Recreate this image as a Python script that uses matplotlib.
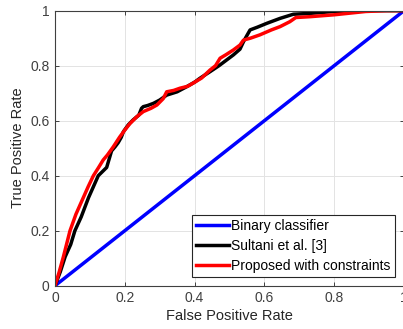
import matplotlib
matplotlib.use("Agg")
import matplotlib.pyplot as plt

plt.rcParams['font.family'] = ['Liberation Sans', 'DejaVu Sans']

# ---------------- Data ----------------
diag_fpr = [0, 1]
diag_tpr = [0, 1]

sultani_fpr = [0, 0.015, 0.029, 0.045, 0.057, 0.075, 0.096, 0.11, 0.124, 0.14, 0.148, 0.155,
               0.162, 0.172, 0.181, 0.19, 0.196, 0.21, 0.224, 0.24, 0.248, 0.253, 0.265, 0.282,
               0.30, 0.32, 0.35, 0.378, 0.40, 0.415, 0.444, 0.47, 0.511, 0.53, 0.54, 0.55,
               0.559, 0.58, 0.607, 0.645, 0.683, 0.73, 0.80, 0.88, 1.0]
sultani_tpr = [0, 0.05, 0.105, 0.15, 0.20, 0.25, 0.32, 0.36, 0.40, 0.42, 0.43, 0.46,
               0.49, 0.505, 0.52, 0.54, 0.56, 0.585, 0.603, 0.62, 0.645, 0.651, 0.655, 0.663,
               0.675, 0.693, 0.705, 0.724, 0.74, 0.754, 0.778, 0.80, 0.839, 0.86, 0.887, 0.91,
               0.93, 0.94, 0.954, 0.972, 0.987, 0.99, 0.997, 1.0, 1.0]

proposed_fpr = [0, 0.012, 0.024, 0.043, 0.06, 0.081, 0.095, 0.11, 0.125, 0.138, 0.15, 0.167,
                0.185, 0.2, 0.215, 0.235, 0.253, 0.275, 0.292, 0.31, 0.32, 0.34, 0.358, 0.38,
                0.395, 0.42, 0.444, 0.46, 0.473, 0.49, 0.511, 0.53, 0.54, 0.56, 0.587, 0.62,
                0.645, 0.673, 0.69, 0.73, 0.80, 0.89, 0.95, 1.0]
proposed_tpr = [0, 0.05, 0.105, 0.20, 0.26, 0.32, 0.36, 0.40, 0.43, 0.457, 0.475, 0.505,
                0.54, 0.566, 0.59, 0.615, 0.633, 0.645, 0.657, 0.68, 0.705, 0.71, 0.718, 0.725,
                0.736, 0.755, 0.784, 0.80, 0.827, 0.84, 0.857, 0.875, 0.893, 0.90, 0.912, 0.93,
                0.942, 0.96, 0.975, 0.978, 0.985, 0.997, 1.0, 1.0]

ticks = [0, 0.2, 0.4, 0.6, 0.8, 1]
tick_labels = ['0', '0.2', '0.4', '0.6', '0.8', '1']

# ---------------- Plot ----------------
fig = plt.figure(figsize=(4.03, 3.29), dpi=100)
ax = fig.add_axes([0.1365, 0.1316, 0.866, 0.836])

ax.plot(diag_fpr, diag_tpr, color='#0000ff', lw=2.5, label='Binary classifier')
ax.plot(sultani_fpr, sultani_tpr, color='black', lw=2.5, label='Sultani et al. [3]')
ax.plot(proposed_fpr, proposed_tpr, color='#ff0000', lw=2.5, label='Proposed with constraints')

ax.set_xlim(0, 1)
ax.set_ylim(0, 1)
ax.set_xticks(ticks)
ax.set_xticklabels(tick_labels)
ax.set_yticks(ticks)
ax.set_yticklabels(tick_labels)
ax.grid(True, color='#e3e3e3', lw=0.7)
ax.set_axisbelow(True)

ax.tick_params(direction='in', length=3, width=0.7, colors='#404040', labelsize=10,
               top=True, right=True, pad=4)
for s in ax.spines.values():
    s.set_color('#404040')
    s.set_linewidth(0.8)

ax.set_xlabel('False Positive Rate', fontsize=10.5, color='#262626', labelpad=3)
ax.set_ylabel('True Positive Rate', fontsize=10.5, color='#262626', labelpad=4)

leg = ax.legend(loc='lower right', bbox_to_anchor=(0.974, 0.032), fontsize=10,
                fancybox=False, framealpha=1, edgecolor='#262626',
                handlelength=2.4, handletextpad=0.15, labelspacing=0.42,
                borderpad=0.3, borderaxespad=0)
leg.get_frame().set_linewidth(0.8)

fig.savefig('out.png', dpi=100)
